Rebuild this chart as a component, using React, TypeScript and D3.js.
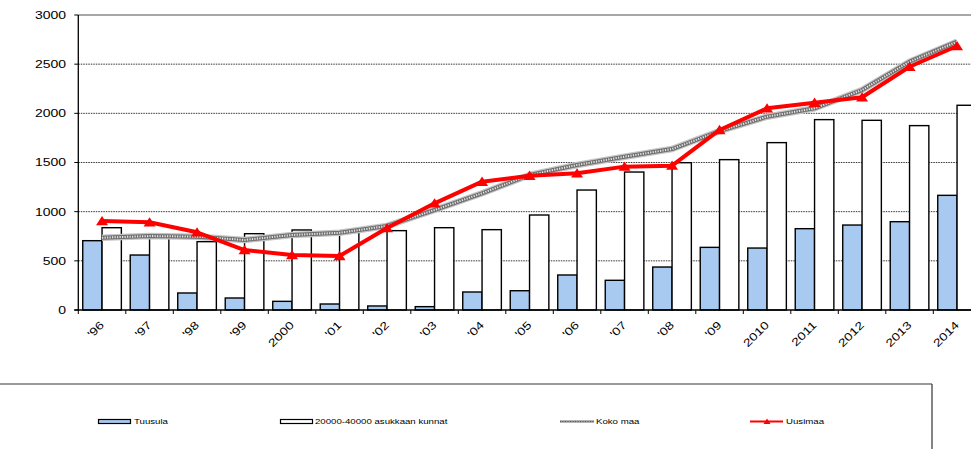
import React from 'react';
import * as d3 from 'd3';

const years = ["'96", "'97", "'98", "'99", "2000", "'01", "'02", "'03", "'04", "'05", "'06", "'07", "'08", "'09", "2010", "2011", "2012", "2013", "2014"];
const tuusula = [705, 559, 173, 122, 88, 61, 41, 34, 183, 196, 356, 302, 437, 637, 630, 827, 864, 898, 1166];
const kunnat = [837, 740, 695, 776, 814, 790, 807, 837, 817, 966, 1220, 1403, 1498, 1529, 1702, 1936, 1929, 1875, 2082];
const kokoMaa = [735, 752, 746, 712, 763, 785, 855, 1017, 1187, 1373, 1475, 1559, 1637, 1820, 1966, 2051, 2237, 2525, 2729];
const uusimaa = [905, 892, 790, 610, 559, 549, 834, 1085, 1305, 1366, 1390, 1458, 1468, 1831, 2051, 2108, 2163, 2474, 2685];
const yTicks = [0, 500, 1000, 1500, 2000, 2500, 3000];

const seriesNames = ['Tuusula', '20000-40000 asukkaan kunnat', 'Koko maa', 'Uusimaa'];

const W = 971;
const H = 449;
const left = 78.3;
const right = 980.8;
const top = 15;
const bottom = 310;
const SX = 1.27;
const FONT = 'Liberation Sans, Arial, sans-serif';

export default function App() {
  const x = d3.scaleBand<string>().domain(years).range([left, right]).padding(0);
  const bw = x.bandwidth();
  const x1 = d3.scaleBand<string>().domain(['t', 'k']).range([0, bw]).paddingInner(0).paddingOuter(0.23);
  const y = d3.scaleLinear().domain([0, 3000]).range([bottom, top]);
  const cx = (i: number) => (x(years[i]) as number) + bw / 2;

  const line = d3.line<number>().x((_, i) => cx(i)).y((d) => y(d));
  const kokoPath = line(kokoMaa) || '';
  const uusiPath = line(uusimaa) || '';

  const tri = (px: number, py: number, s = 6) => `M${px},${py - s * 0.85}L${px + s},${py + s * 0.7}L${px - s},${py + s * 0.7}Z`;

  const blue = '#a9caf0';

  return (
    <svg width={W} height={H} style={{ position: 'absolute', left: 0, top: 0, background: '#fff' }} fontFamily={FONT}>
      {/* gridlines */}
      {yTicks.filter((t) => t > 0 && t < 3000).map((t) => (
        <line key={t} x1={left} x2={W} y1={y(t)} y2={y(t)} stroke="#000" strokeWidth={0.8} strokeDasharray="1.5 1" />
      ))}
      <line x1={left} x2={W} y1={y(3000)} y2={y(3000)} stroke="#8a8a8a" strokeWidth={1.5} />
      {/* bars */}
      {years.map((yr, i) => (
        <g key={yr}>
          <rect x={(x(yr) as number) + (x1('t') as number)} y={y(tuusula[i])} width={x1.bandwidth()} height={bottom - y(tuusula[i])} fill={blue} stroke="#000" strokeWidth={1.4} />
          <rect x={(x(yr) as number) + (x1('k') as number)} y={y(kunnat[i])} width={x1.bandwidth()} height={bottom - y(kunnat[i])} fill="#fff" stroke="#000" strokeWidth={1.4} />
        </g>
      ))}
      {/* axes */}
      <line x1={left} x2={left} y1={top} y2={bottom} stroke="#000" strokeWidth={1.3} />
      {yTicks.map((t) => (
        <g key={t}>
          <line x1={left - 4} x2={left} y1={y(t)} y2={y(t)} stroke="#000" strokeWidth={1} />
          <text transform={`translate(66,${y(t)}) scale(${SX},1)`} textAnchor="end" dy="0.35em" fontSize={11} fill="#000">{t}</text>
        </g>
      ))}
      <line x1={left - 4} x2={W} y1={bottom} y2={bottom} stroke="#000" strokeWidth={1.3} />
      {years.map((yr) => (
        <line key={'tk' + yr} x1={x(yr) as number} x2={x(yr) as number} y1={bottom} y2={bottom + 4} stroke="#000" strokeWidth={1} />
      ))}
      {years.map((yr, i) => (
        <text key={'lb' + yr} transform={`translate(${cx(i)},${323}) rotate(-45) scale(${SX},1)`} textAnchor="end" dy="0.35em" fontSize={11} fill="#000">{yr}</text>
      ))}
      {/* Koko maa line */}
      <path d={kokoPath} fill="none" stroke="#c4c4c4" strokeWidth={6.5} strokeLinejoin="round" />
      <path d={kokoPath} fill="none" stroke="#6e6e6e" strokeWidth={4} strokeLinejoin="round" />
      <path d={kokoPath} fill="none" stroke="#e8e8e8" strokeWidth={2} strokeDasharray="1.2 1.3" strokeLinejoin="round" />
      {/* Uusimaa line */}
      <path d={uusiPath} fill="none" stroke="#ff0000" strokeWidth={4} strokeLinejoin="round" />
      {uusimaa.map((v, i) => (
        <path key={'m' + i} d={tri(cx(i), y(v))} fill="#ff0000" />
      ))}
      {/* legend box */}
      <line x1={0} x2={932} y1={384} y2={384} stroke="#777" strokeWidth={1.3} />
      <line x1={932} x2={932} y1={384} y2={H} stroke="#333" strokeWidth={1.2} />
      {/* legend items */}
      <rect x={98.5} y={419.5} width={32} height={4} fill={blue} stroke="#000" strokeWidth={1.2} />
      <text transform={`translate(134,421.7) scale(${SX},1)`} dy="0.35em" fontSize={7.6} fill="#000">{seriesNames[0]}</text>
      <rect x={280.5} y={419.5} width={32} height={4} fill="#fff" stroke="#000" strokeWidth={1.2} />
      <text transform={`translate(315,421.7) scale(${SX},1)`} dy="0.35em" fontSize={7.6} fill="#000">{seriesNames[1]}</text>
      <line x1={560} x2={594} y1={421.5} y2={421.5} stroke="#9a9a9a" strokeWidth={2.5} />
      <line x1={560} x2={594} y1={421.5} y2={421.5} stroke="#555" strokeWidth={1} strokeDasharray="1 1.5" />
      <text transform={`translate(596,421.7) scale(${SX},1)`} dy="0.35em" fontSize={7.6} fill="#000">{seriesNames[2]}</text>
      <line x1={750} x2={783} y1={421.5} y2={421.5} stroke="#ff0000" strokeWidth={2} />
      <path d={tri(767, 421.5, 3.5)} fill="#ff0000" />
      <text transform={`translate(786,421.7) scale(${SX},1)`} dy="0.35em" fontSize={7.6} fill="#000">{seriesNames[3]}</text>
    </svg>
  );
}
